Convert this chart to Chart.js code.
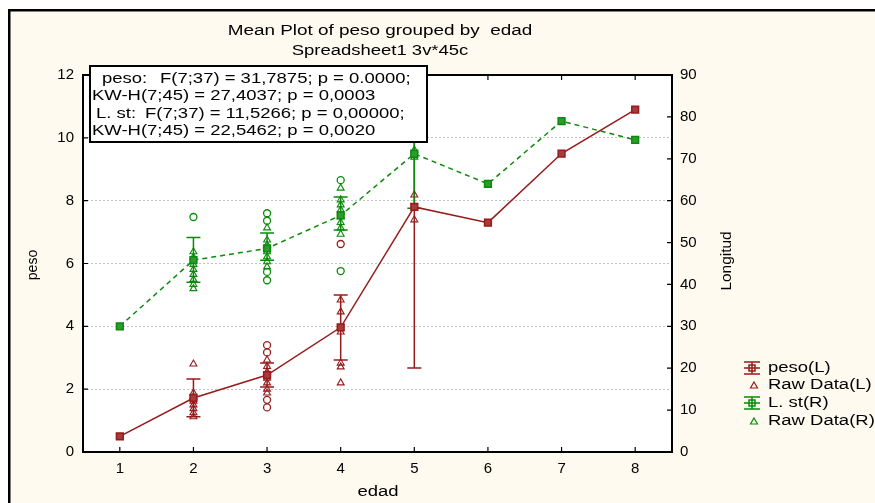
<!DOCTYPE html>
<html>
<head>
<meta charset="utf-8">
<script src="https://cdn.jsdelivr.net/npm/chart.js@4/dist/chart.umd.min.js"></script>
<style>
  html, body { margin: 0; padding: 0; background: #fff; }
  #wrap { width: 875px; height: 503px; }
</style>
</head>
<body>
<div id="wrap"><canvas id="myChart" width="875" height="503"></canvas></div>
<script>
const edad = [1, 2, 3, 4, 5, 6, 7, 8];
const pesoMean = [0.5, 1.72, 2.45, 3.97, 7.8, 7.3, 9.5, 10.9];
const pesoLow = [null, 1.12, 2.07, 2.93, 2.67, null, null, null];
const pesoHigh = [null, 2.32, 2.83, 5.0, 12.93, null, null, null];
const lstMean = [30, 45.8, 48.6, 56.5, 71.2, 64, 79, 74.5];
const lstLow = [null, 40.5, 45.8, 53, 58.2, null, null, null];
const lstHigh = [null, 51.2, 52.3, 60.9, 84.2, null, null, null];

// raw data, [edad, value]
const pesoRaw = [
  [2, 2.8], [2, 1.88], [2, 1.75], [2, 1.62], [2, 1.5], [2, 1.38], [2, 1.25], [2, 1.12],
  [3, 2.93], [3, 2.72], [3, 2.55], [3, 2.35], [3, 2.2], [3, 2.0], [3, 1.88],
  [4, 4.84], [4, 4.46], [4, 3.82], [4, 2.83], [4, 2.71], [4, 2.2],
  [5, 8.18], [5, 7.39]
];
const pesoRawOut = [[3, 3.4], [3, 3.17], [3, 1.66], [3, 1.42], [4, 6.62]];
const lstRaw = [
  [2, 47.8], [2, 46.5], [2, 44.8], [2, 43.6], [2, 42.4], [2, 41.2], [2, 40], [2, 39],
  [3, 53.5], [3, 50.6], [3, 49.4], [3, 47.8], [3, 46.6], [3, 45.4], [3, 44.2],
  [4, 63], [4, 60.2], [4, 59], [4, 57.8], [4, 56.2], [4, 54.8], [4, 53.5], [4, 52],
  [5, 72.1], [5, 70.4]
];
const lstRawOut = [[2, 56.1], [3, 57], [3, 55.2], [3, 43], [3, 41], [4, 64.9], [4, 43.2]];

const RED = "#961b1b";
const GREEN = "#0b8a0b";
const FONT = '"Liberation Sans", Arial, sans-serif';
const SX = 1.32; // text in the original is stretched sideways

const pts = (arr) => arr.map((p) => ({ x: p[0], y: p[1] }));
const means = (vals) => edad.map((e, i) => ({ x: e, y: vals[i] }));

function txt(ctx, s, x, y, opt = {}) {
  ctx.save();
  ctx.font = (opt.size || 14) + "px " + FONT;
  ctx.fillStyle = "#000";
  ctx.textBaseline = "middle";
  ctx.textAlign = opt.align || "left";
  ctx.translate(x, y);
  if (opt.rot) ctx.rotate(opt.rot);
  ctx.scale(opt.sx || SX, 1);
  ctx.fillText(s, 0, 0);
  ctx.restore();
}

function errBars(chart, low, high, axisId, color) {
  const { ctx, chartArea: a } = chart;
  const xs = chart.scales.x, ys = chart.scales[axisId];
  ctx.save();
  ctx.beginPath();
  ctx.rect(a.left, a.top, a.right - a.left, a.bottom - a.top);
  ctx.clip();
  ctx.strokeStyle = color;
  ctx.lineWidth = 1.5;
  edad.forEach((e, i) => {
    if (low[i] == null) return;
    const px = xs.getPixelForValue(e);
    const p1 = ys.getPixelForValue(low[i]);
    const p2 = ys.getPixelForValue(high[i]);
    ctx.beginPath();
    ctx.moveTo(px, p1); ctx.lineTo(px, p2);
    ctx.moveTo(px - 7, p1); ctx.lineTo(px + 7, p1);
    ctx.moveTo(px - 7, p2); ctx.lineTo(px + 7, p2);
    ctx.stroke();
  });
  ctx.restore();
}

function legendBar(ctx, x, y, color) {
  ctx.save();
  ctx.strokeStyle = color;
  ctx.lineWidth = 1.5;
  ctx.beginPath();
  ctx.moveTo(x - 8, y - 6); ctx.lineTo(x + 8, y - 6);
  ctx.moveTo(x - 8, y + 6); ctx.lineTo(x + 8, y + 6);
  ctx.moveTo(x - 8, y); ctx.lineTo(x + 8, y);
  ctx.moveTo(x, y - 6); ctx.lineTo(x, y + 6);
  ctx.stroke();
  ctx.strokeRect(x - 3, y - 3, 6, 6);
  ctx.restore();
}

function legendTri(ctx, x, y, color) {
  ctx.save();
  ctx.strokeStyle = color;
  ctx.lineWidth = 1.2;
  ctx.beginPath();
  ctx.moveTo(x, y - 3); ctx.lineTo(x + 3.5, y + 3); ctx.lineTo(x - 3.5, y + 3);
  ctx.closePath();
  ctx.stroke();
  ctx.restore();
}

const decor = {
  id: "decor",
  beforeDraw(chart) {
    const { ctx, chartArea: a, width, height } = chart;
    ctx.save();
    ctx.fillStyle = "#fff";
    ctx.fillRect(0, 0, width, height);
    ctx.fillStyle = "#fffaef";
    ctx.fillRect(9, 10, width - 9, height - 10);
    ctx.fillStyle = "#000";
    ctx.fillRect(8, 9, width - 8, 2.5);
    ctx.fillRect(8, 9, 2.5, height - 9);
    ctx.fillStyle = "#fff";
    ctx.fillRect(a.left, a.top, a.right - a.left, a.bottom - a.top);
    ctx.restore();
  },
  beforeDatasetsDraw(chart) {
    errBars(chart, pesoLow, pesoHigh, "y", RED);
    errBars(chart, lstLow, lstHigh, "y2", GREEN);
  },
  afterDraw(chart) {
    const { ctx, chartArea: a } = chart;
    const xs = chart.scales.x, yl = chart.scales.y, yr = chart.scales.y2;
    ctx.save();
    // plot frame and inner ticks
    ctx.strokeStyle = "#000";
    ctx.lineWidth = 2;
    ctx.strokeRect(a.left, a.top, a.right - a.left, a.bottom - a.top);
    ctx.lineWidth = 1.2;
    ctx.beginPath();
    xs.ticks.forEach((t) => {
      const px = xs.getPixelForValue(t.value);
      ctx.moveTo(px, a.bottom); ctx.lineTo(px, a.bottom - 5);
      ctx.moveTo(px, a.top); ctx.lineTo(px, a.top + 5);
    });
    yl.ticks.forEach((t) => {
      const py = yl.getPixelForValue(t.value);
      ctx.moveTo(a.left, py); ctx.lineTo(a.left + 5, py);
    });
    yr.ticks.forEach((t) => {
      const py = yr.getPixelForValue(t.value);
      ctx.moveTo(a.right, py); ctx.lineTo(a.right - 5, py);
    });
    ctx.stroke();
    ctx.restore();

    // titles
    txt(ctx, "Mean Plot of peso grouped by  edad", 380, 31, { align: "center", sx: 1.35 });
    txt(ctx, "Spreadsheet1 3v*45c", 380, 51, { align: "center" });
    txt(ctx, "edad", 378, 492, { align: "center" });
    txt(ctx, "peso", 33, 265, { align: "center", rot: -Math.PI / 2, sx: 1 });
    txt(ctx, "Longitud", 727, 261, { align: "center", rot: -Math.PI / 2, sx: 1.1 });

    // stats box
    ctx.save();
    ctx.fillStyle = "#fff";
    ctx.fillRect(90, 66, 337, 76);
    ctx.strokeStyle = "#000";
    ctx.lineWidth = 2;
    ctx.strokeRect(90, 66, 337, 76);
    ctx.restore();
    txt(ctx, "peso:", 102, 79);
    txt(ctx, "F(7;37) = 31,7875; p = 0.0000;", 160, 79);
    txt(ctx, "KW-H(7;45) = 27,4037; p = 0,0003", 92, 96);
    txt(ctx, "L. st:", 96, 114);
    txt(ctx, "F(7;37) = 11,5266; p = 0,00000;", 145, 114);
    txt(ctx, "KW-H(7;45) = 22,5462; p = 0,0020", 92, 131);

    // legend
    legendBar(ctx, 752, 368, RED);
    txt(ctx, "peso(L)", 768, 368);
    legendTri(ctx, 754, 385, RED);
    txt(ctx, "Raw Data(L)", 768, 385);
    legendBar(ctx, 752, 403, GREEN);
    txt(ctx, "L. st(R)", 768, 403);
    legendTri(ctx, 754, 421, GREEN);
    txt(ctx, "Raw Data(R)", 768, 421);
  }
};

const tickFont = { family: FONT, size: 15 };

const data = {
  datasets: [
    {
      label: "peso(L)",
      data: means(pesoMean),
      yAxisID: "y",
      showLine: true,
      borderColor: RED,
      borderWidth: 1.5,
      pointStyle: "rect",
      pointRadius: 4.8,
      pointBorderWidth: 1.5,
      pointBackgroundColor: "#a83a3a",
      pointBorderColor: RED,
    },
    {
      label: "L. st(R)",
      data: means(lstMean),
      yAxisID: "y2",
      showLine: true,
      borderColor: GREEN,
      borderWidth: 1.5,
      borderDash: [5, 4],
      pointStyle: "rect",
      pointRadius: 4.8,
      pointBorderWidth: 1.5,
      pointBackgroundColor: "#2f9a2f",
      pointBorderColor: GREEN,
    },
    {
      label: "Raw Data(L)",
      data: pts(pesoRaw),
      yAxisID: "y",
      pointStyle: "triangle",
      pointRadius: 4,
      pointBorderWidth: 1.1,
      pointBorderColor: RED,
      pointBackgroundColor: "rgba(0,0,0,0)",
    },
    {
      label: "Raw Data(L) out",
      data: pts(pesoRawOut),
      yAxisID: "y",
      pointStyle: "circle",
      pointRadius: 3.5,
      pointBorderWidth: 1.3,
      pointBorderColor: RED,
      pointBackgroundColor: "rgba(0,0,0,0)",
    },
    {
      label: "Raw Data(R)",
      data: pts(lstRaw),
      yAxisID: "y2",
      pointStyle: "triangle",
      pointRadius: 4,
      pointBorderWidth: 1.1,
      pointBorderColor: GREEN,
      pointBackgroundColor: "rgba(0,0,0,0)",
    },
    {
      label: "Raw Data(R) out",
      data: pts(lstRawOut),
      yAxisID: "y2",
      pointStyle: "circle",
      pointRadius: 3.5,
      pointBorderWidth: 1.3,
      pointBorderColor: GREEN,
      pointBackgroundColor: "rgba(0,0,0,0)",
    },
  ],
};

const config = {
  type: "scatter",
  data: data,
  options: {
    responsive: false,
    animation: false,
    layout: { padding: { top: 75, left: 0, right: 0, bottom: 0 } },
    plugins: {
      legend: { display: false },
      title: { display: false },
      tooltip: { enabled: false },
    },
    scales: {
      x: {
        type: "linear",
        min: 0.5,
        max: 8.5,
        afterBuildTicks: (s) => { s.ticks = edad.map((v) => ({ value: v })); },
        grid: { display: false, drawTicks: false },
        border: { display: false },
        ticks: { color: "#000", font: tickFont, padding: 8 },
        afterFit: (s) => { s.height = 51; },
      },
      y: {
        position: "left",
        min: 0,
        max: 12,
        ticks: { stepSize: 2, color: "#000", font: tickFont, padding: 9 },
        grid: { color: "#c0c0c0", drawTicks: false, lineWidth: 1 },
        border: { display: false, dash: [2, 2] },
        afterFit: (s) => { s.width = 83; },
      },
      y2: {
        position: "right",
        min: 0,
        max: 90,
        ticks: { stepSize: 10, color: "#000", font: tickFont, padding: 8 },
        grid: { display: false, drawTicks: false },
        border: { display: false },
        afterFit: (s) => { s.width = 203; },
      },
    },
  },
  plugins: [decor],
};

const myChart = new Chart(document.getElementById("myChart"), config);
</script>
</body>
</html>
